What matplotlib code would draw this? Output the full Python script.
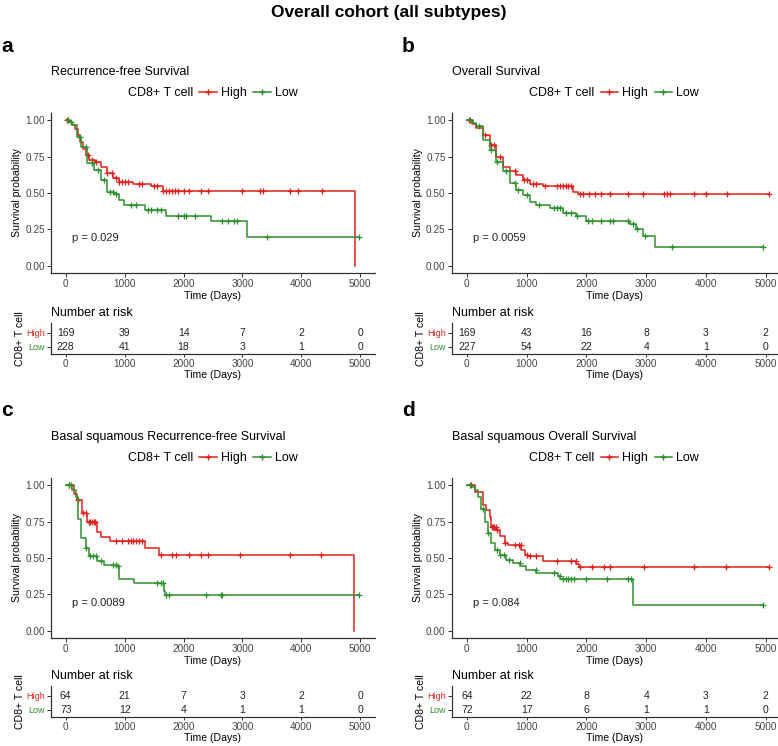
import numpy as np
import matplotlib
matplotlib.use("Agg")
import matplotlib.pyplot as plt
from matplotlib.lines import Line2D

plt.rcParams['font.family'] = ['Liberation Sans', 'DejaVu Sans']

RED = '#E3211C'
GREEN = '#2E8F2E'
TICK_TIMES = [0, 1000, 2000, 3000, 4000, 5000]

# ---- panel a : recurrence-free survival, all subtypes ----
a_high_t = [0, 50, 100, 150, 200, 250, 300, 350, 400, 500, 600, 700, 800, 900, 1150, 1450, 1650, 4910]
a_high_s = [1.0, 0.99, 0.97, 0.94, 0.90, 0.85, 0.80, 0.76, 0.73, 0.71, 0.68, 0.64, 0.60, 0.575, 0.56, 0.55, 0.516, 0.0]
a_high_c = [30, 380, 450, 520, 700, 780, 850, 900, 950, 1000, 1050, 1250, 1300, 1500, 1550, 1650, 1700,
            1750, 1800, 1850, 1900, 2000, 2100, 2300, 2420, 3000, 3300, 3350, 3800, 3950, 4350]
a_low_t = [0, 60, 113, 197, 253, 366, 478, 591, 704, 816, 900, 985, 1350, 1700, 2460, 3080]
a_low_s = [1.0, 0.985, 0.966, 0.886, 0.818, 0.705, 0.66, 0.59, 0.51, 0.49, 0.455, 0.416, 0.386, 0.34, 0.307, 0.20]
a_low_c = [40, 90, 250, 350, 450, 550, 650, 750, 800, 850, 1100, 1200, 1400, 1450, 1550, 1620,
           1900, 2000, 2050, 2200, 2650, 2750, 2850, 2900, 3420, 4980]
a_risk_high = [169, 39, 14, 7, 2, 0]
a_risk_low = [228, 41, 18, 3, 1, 0]

# ---- panel b : overall survival, all subtypes ----
b_high_t = [0, 80, 156, 268, 380, 492, 603, 715, 827, 939, 1050, 1274, 1400, 1777, 1860]
b_high_s = [1.0, 0.975, 0.95, 0.898, 0.83, 0.75, 0.68, 0.648, 0.625, 0.59, 0.564, 0.55, 0.545, 0.51, 0.495]
b_high_c = [30, 300, 400, 450, 550, 800, 950, 1000, 1100, 1150, 1300, 1500, 1550, 1600, 1650, 1700, 1750,
            1900, 1950, 2050, 2150, 2250, 2400, 2700, 2950, 3300, 3350, 3400, 3800, 4000, 4350, 5050]
b_low_t = [0, 100, 156, 268, 380, 492, 603, 715, 827, 939, 1050, 1162, 1386, 1609, 1833, 2000, 2726, 2838, 2950, 3145]
b_low_s = [1.0, 0.98, 0.96, 0.864, 0.795, 0.716, 0.648, 0.568, 0.523, 0.489, 0.436, 0.42, 0.398, 0.364, 0.34,
           0.307, 0.284, 0.25, 0.205, 0.132]
b_low_c = [50, 200, 400, 500, 650, 800, 850, 1000, 1200, 1450, 1500, 1550, 1650, 1750, 1850, 2020, 2100,
           2250, 2400, 2450, 2700, 2780, 2850, 2980, 3430, 4950]
b_risk_high = [169, 43, 16, 8, 3, 2]
b_risk_low = [227, 54, 22, 4, 1, 0]

# ---- panel c : basal squamous recurrence-free survival ----
c_high_t = [0, 141, 197, 282, 366, 535, 591, 760, 1351, 1577, 4899]
c_high_s = [1.0, 0.943, 0.898, 0.807, 0.75, 0.68, 0.643, 0.614, 0.568, 0.523, 0.0]
c_high_c = [60, 200, 300, 350, 400, 420, 450, 480, 500, 850, 950, 1050, 1100, 1150, 1200, 1250, 1300,
            1620, 1800, 1880, 2100, 2300, 2420, 2960, 3800, 4330]
c_low_t = [0, 113, 169, 208, 253, 338, 394, 535, 648, 873, 900, 1154, 1661, 1689]
c_low_s = [1.0, 0.97, 0.92, 0.77, 0.636, 0.568, 0.511, 0.477, 0.455, 0.443, 0.357, 0.33, 0.273, 0.243]
c_low_c = [60, 90, 350, 420, 470, 520, 600, 800, 850, 880, 1550, 1620, 1650, 1700, 1750, 2380, 2630,
           2650, 4980]
c_risk_high = [64, 21, 7, 3, 2, 0]
c_risk_low = [73, 12, 4, 1, 1, 0]

# ---- panel d : basal squamous overall survival ----
d_high_t = [0, 128, 268, 324, 380, 408, 492, 548, 631, 687, 911, 967, 1022, 1274, 1833, 1877]
d_high_s = [1.0, 0.955, 0.864, 0.83, 0.784, 0.716, 0.693, 0.648, 0.602, 0.59, 0.557, 0.523, 0.511,
            0.482, 0.461, 0.436]
d_high_c = [60, 420, 440, 460, 480, 500, 640, 800, 870, 900, 1000, 1050, 1150, 1500, 1750, 1820, 1900,
            2100, 2300, 2400, 2960, 3800, 4330, 5050]
d_low_t = [0, 73, 128, 184, 240, 296, 352, 408, 464, 548, 659, 771, 883, 994, 1162, 1525, 1553, 2782]
d_low_s = [1.0, 0.99, 0.966, 0.92, 0.84, 0.75, 0.67, 0.602, 0.557, 0.523, 0.489, 0.466, 0.443, 0.42,
           0.398, 0.375, 0.357, 0.177]
d_low_c = [50, 270, 360, 500, 560, 620, 700, 880, 1150, 1450, 1550, 1600, 1650, 1700, 1750, 1800, 2000,
           2350, 2700, 2750, 4950]
d_risk_high = [64, 22, 8, 4, 3, 2]
d_risk_low = [72, 17, 6, 1, 1, 0]


def step_value(t, s, x):
    idx = np.searchsorted(t, x, side='right') - 1
    return np.asarray(s)[idx]


def style_axis(ax):
    for side in ['top', 'right']:
        ax.spines[side].set_visible(False)
    for side in ['left', 'bottom']:
        ax.spines[side].set_color('#333333')
        ax.spines[side].set_linewidth(0.9)
    ax.tick_params(colors='#333333', labelcolor='#444444', labelsize=7.2, length=3, width=0.7, pad=1.5)


def km_panel(fig, main_rect, risk_rect, letter, title, pval, xmax,
             high_t, high_s, high_c, low_t, low_s, low_c, risk_high, risk_low):
    ax = fig.add_axes(main_rect)
    for t, s, c, col in [(high_t, high_s, high_c, RED), (low_t, low_s, low_c, GREEN)]:
        t = np.asarray(t, float)
        s = np.asarray(s, float)
        end = max(max(c), t[-1])
        ax.step(np.append(t, end), np.append(s, s[-1]), where='post', color=col, lw=1.1)
        ax.plot(c, step_value(t, s, c), ls='none', marker='+', ms=5, mew=0.9, color=col)
    ax.set_xlim(-250, xmax)
    ax.set_ylim(-0.05, 1.05)
    ax.set_xticks(TICK_TIMES)
    ax.set_yticks([0, 0.25, 0.5, 0.75, 1.0])
    ax.set_yticklabels(['0.00', '0.25', '0.50', '0.75', '1.00'])
    ax.set_xlabel('Time (Days)', fontsize=7.6, labelpad=1)
    ax.set_ylabel('Survival probability', fontsize=7.6, labelpad=2)
    style_axis(ax)
    ax.text(100, 0.19, pval, fontsize=8, va='center', ha='left', color='#222222')

    # title, legend, panel letter
    ax.text(0.0, 1.0 + 41 / 160, title, transform=ax.transAxes, fontsize=9, ha='left', va='center')
    handles = [Line2D([], [], color='none'),
               Line2D([], [], color=RED, marker='+', ms=5, lw=1.1),
               Line2D([], [], color=GREEN, marker='+', ms=5, lw=1.1)]
    ax.legend(handles, ['CD8+ T cell', 'High', 'Low'], ncol=3, frameon=False, fontsize=9,
              loc='center', bbox_to_anchor=(0.465, 1.0 + 20 / 160), handlelength=1.4,
              handletextpad=0.35, columnspacing=0.5, numpoints=1, borderpad=0)
    fig.text(main_rect[0] - 50 / 778, main_rect[1] + main_rect[3] + 67 / 746, letter,
             fontsize=15, fontweight='bold', ha='left', va='center')

    # risk table
    rx = fig.add_axes(risk_rect)
    for i, tm in enumerate(TICK_TIMES):
        rx.text(tm, 2, str(risk_high[i]), ha='center', va='center', fontsize=7.5, color='#222222')
        rx.text(tm, 1, str(risk_low[i]), ha='center', va='center', fontsize=7.5, color='#222222')
    rx.set_xlim(-250, xmax)
    rx.set_ylim(0.5, 2.7)
    rx.set_xticks(TICK_TIMES)
    rx.set_yticks([1, 2])
    rx.set_yticklabels(['Low', 'High'])
    style_axis(rx)
    rx.tick_params(axis='x', length=2.5, pad=1)
    rx.get_yticklabels()[0].set_color(GREEN)
    rx.get_yticklabels()[1].set_color(RED)
    rx.tick_params(axis='y', labelsize=6.5)
    rx.set_xlabel('Time (Days)', fontsize=7.6, labelpad=0.5)
    rx.set_ylabel('CD8+ T cell', fontsize=7.6)
    rx.yaxis.set_label_coords(-26 / (risk_rect[2] * 778), 0.5)
    rx.text(0.0, 1.0 + 10 / 31, 'Number at risk', transform=rx.transAxes, fontsize=9,
            ha='left', va='center')


fig = plt.figure(figsize=(7.78, 7.46), dpi=100)
fig.text(0.5, 1 - 13 / 746, 'Overall cohort (all subtypes)', ha='center', va='center',
         fontsize=12.5, fontweight='bold')

W, H = 778.0, 746.0
km_panel(fig, [51 / W, 1 - 273 / H, 324 / W, 160 / H], [51 / W, 1 - 354 / H, 324 / W, 31 / H],
         'a', 'Recurrence-free Survival', 'p = 0.029', 5250,
         a_high_t, a_high_s, a_high_c, a_low_t, a_low_s, a_low_c, a_risk_high, a_risk_low)
km_panel(fig, [452 / W, 1 - 273 / H, 325 / W, 160 / H], [452 / W, 1 - 354 / H, 325 / W, 31 / H],
         'b', 'Overall Survival', 'p = 0.0059', 5190,
         b_high_t, b_high_s, b_high_c, b_low_t, b_low_s, b_low_c, b_risk_high, b_risk_low)
km_panel(fig, [51 / W, 1 - 638 / H, 324 / W, 160 / H], [51 / W, 1 - 717 / H, 324 / W, 31 / H],
         'c', 'Basal squamous Recurrence-free Survival', 'p = 0.0089', 5250,
         c_high_t, c_high_s, c_high_c, c_low_t, c_low_s, c_low_c, c_risk_high, c_risk_low)
km_panel(fig, [452 / W, 1 - 638 / H, 325 / W, 160 / H], [452 / W, 1 - 717 / H, 325 / W, 31 / H],
         'd', 'Basal squamous Overall Survival', 'p = 0.084', 5190,
         d_high_t, d_high_s, d_high_c, d_low_t, d_low_s, d_low_c, d_risk_high, d_risk_low)

fig.savefig('out.png', dpi=100)
